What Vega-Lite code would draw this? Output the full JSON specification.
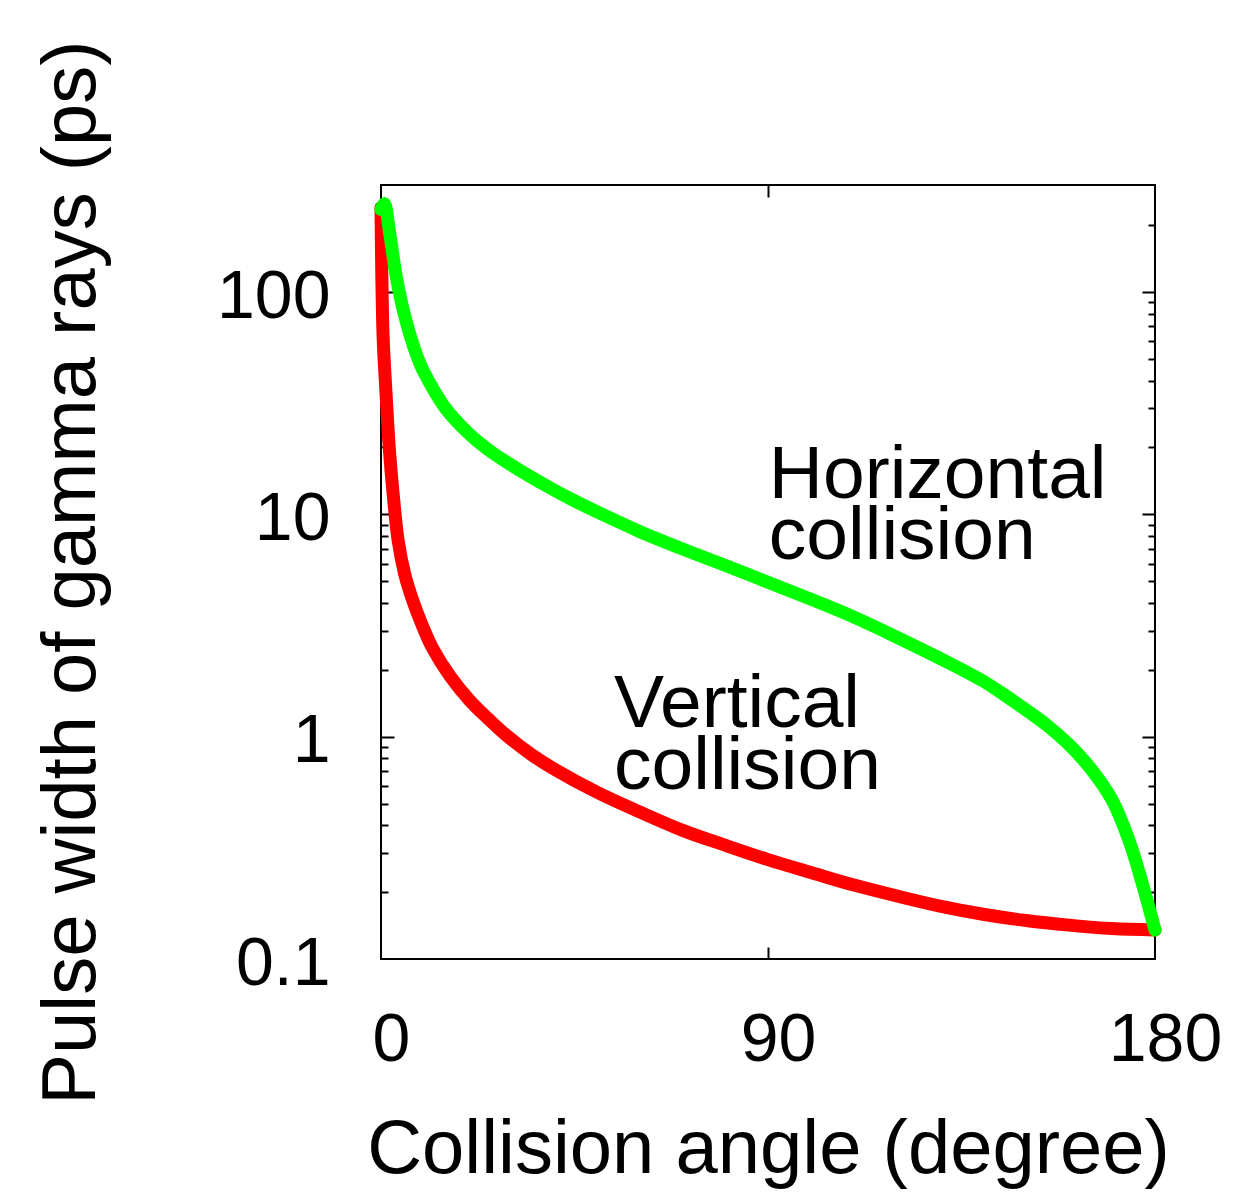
{
  "$schema": "https://vega.github.io/schema/vega-lite/v6.json",
  "autosize": {"type": "none"},
  "width": 774,
  "height": 774,
  "padding": {"left": 381, "top": 185, "right": 81, "bottom": 238},
  "background": "white",
  "config": {
    "view": {"stroke": "black", "strokeWidth": 2},
    "font": "Liberation Sans",
    "axis": {
      "grid": false,
      "domain": false,
      "tickColor": "black",
      "tickWidth": 2,
      "labelColor": "black",
      "titleColor": "black",
      "labelFont": "Liberation Sans",
      "titleFont": "Liberation Sans",
      "titleFontWeight": "normal"
    }
  },
  "datasets": {
    "curves": [
      {"angle": 0, "width": 240, "collision": "Vertical"},
      {"angle": 0.2, "width": 115, "collision": "Vertical"},
      {"angle": 0.5, "width": 62, "collision": "Vertical"},
      {"angle": 1, "width": 40, "collision": "Vertical"},
      {"angle": 1.5, "width": 27, "collision": "Vertical"},
      {"angle": 2, "width": 19, "collision": "Vertical"},
      {"angle": 2.8, "width": 12.5, "collision": "Vertical"},
      {"angle": 4, "width": 7.6, "collision": "Vertical"},
      {"angle": 5.5, "width": 5.4, "collision": "Vertical"},
      {"angle": 7.2, "width": 4.2, "collision": "Vertical"},
      {"angle": 9.5, "width": 3.2, "collision": "Vertical"},
      {"angle": 12, "width": 2.5, "collision": "Vertical"},
      {"angle": 16, "width": 1.88, "collision": "Vertical"},
      {"angle": 20.7, "width": 1.45, "collision": "Vertical"},
      {"angle": 25, "width": 1.2, "collision": "Vertical"},
      {"angle": 29, "width": 1.02, "collision": "Vertical"},
      {"angle": 35, "width": 0.83, "collision": "Vertical"},
      {"angle": 40, "width": 0.72, "collision": "Vertical"},
      {"angle": 50, "width": 0.565, "collision": "Vertical"},
      {"angle": 60, "width": 0.46, "collision": "Vertical"},
      {"angle": 70, "width": 0.38, "collision": "Vertical"},
      {"angle": 80, "width": 0.325, "collision": "Vertical"},
      {"angle": 90, "width": 0.28, "collision": "Vertical"},
      {"angle": 100, "width": 0.245, "collision": "Vertical"},
      {"angle": 110, "width": 0.215, "collision": "Vertical"},
      {"angle": 120, "width": 0.192, "collision": "Vertical"},
      {"angle": 130, "width": 0.173, "collision": "Vertical"},
      {"angle": 140, "width": 0.159, "collision": "Vertical"},
      {"angle": 150, "width": 0.149, "collision": "Vertical"},
      {"angle": 160, "width": 0.142, "collision": "Vertical"},
      {"angle": 170, "width": 0.137, "collision": "Vertical"},
      {"angle": 180, "width": 0.135, "collision": "Vertical"},
      {"angle": 0, "width": 235, "collision": "Horizontal"},
      {"angle": 0.8, "width": 250, "collision": "Horizontal"},
      {"angle": 2, "width": 185, "collision": "Horizontal"},
      {"angle": 3.7, "width": 113, "collision": "Horizontal"},
      {"angle": 6, "width": 72, "collision": "Horizontal"},
      {"angle": 9, "width": 48, "collision": "Horizontal"},
      {"angle": 12, "width": 37, "collision": "Horizontal"},
      {"angle": 15, "width": 30, "collision": "Horizontal"},
      {"angle": 20, "width": 23.5, "collision": "Horizontal"},
      {"angle": 25, "width": 19.5, "collision": "Horizontal"},
      {"angle": 30, "width": 16.8, "collision": "Horizontal"},
      {"angle": 38.6, "width": 13.4, "collision": "Horizontal"},
      {"angle": 45, "width": 11.5, "collision": "Horizontal"},
      {"angle": 51, "width": 10.1, "collision": "Horizontal"},
      {"angle": 60, "width": 8.4, "collision": "Horizontal"},
      {"angle": 70, "width": 7.0, "collision": "Horizontal"},
      {"angle": 80, "width": 5.9, "collision": "Horizontal"},
      {"angle": 90, "width": 4.95, "collision": "Horizontal"},
      {"angle": 100, "width": 4.15, "collision": "Horizontal"},
      {"angle": 110, "width": 3.45, "collision": "Horizontal"},
      {"angle": 120, "width": 2.8, "collision": "Horizontal"},
      {"angle": 130, "width": 2.25, "collision": "Horizontal"},
      {"angle": 140, "width": 1.78, "collision": "Horizontal"},
      {"angle": 145, "width": 1.54, "collision": "Horizontal"},
      {"angle": 150, "width": 1.32, "collision": "Horizontal"},
      {"angle": 155, "width": 1.12, "collision": "Horizontal"},
      {"angle": 160, "width": 0.92, "collision": "Horizontal"},
      {"angle": 165, "width": 0.72, "collision": "Horizontal"},
      {"angle": 170, "width": 0.52, "collision": "Horizontal"},
      {"angle": 174, "width": 0.34, "collision": "Horizontal"},
      {"angle": 177, "width": 0.22, "collision": "Horizontal"},
      {"angle": 180, "width": 0.135, "collision": "Horizontal"}
    ]
  },
  "data": {"name": "curves"},
  "resolve": {"axis": {"x": "independent", "y": "independent"}},
  "layer": [
    {
      "mark": {"type": "line", "strokeWidth": 13, "interpolate": "catmull-rom", "strokeCap": "round", "strokeJoin": "round", "clip": false},
      "encoding": {
        "x": {
          "field": "angle", "type": "quantitative",
          "scale": {"domain": [0, 180], "nice": false, "zero": false},
          "axis": {
            "orient": "bottom", "values": [0, 90, 180], "ticks": false,
            "labelFontSize": 68, "labelPadding": 101, "labelBaseline": "alphabetic",
            "labelOffset": 10, "labelFlush": false, "labelAlign": "center",
            "title": "Collision angle (degree)", "titleFontSize": 76,
            "titleX": 387, "titleY": 213, "titleBaseline": "alphabetic", "titleAlign": "center"
          }
        },
        "y": {
          "field": "width", "type": "quantitative",
          "scale": {"type": "log", "domain": [0.1, 303], "nice": false, "zero": false},
          "axis": {
            "orient": "left", "values": [0.1, 1, 10, 100], "ticks": false, "format": "~g",
            "labelFontSize": 68, "labelPadding": 51, "labelBaseline": "alphabetic",
            "labelOffset": 25, "labelAlign": "right",
            "title": "Pulse width of gamma rays (ps)", "titleFontSize": 76,
            "titleAngle": -90, "titleX": -287, "titleY": 387,
            "titleBaseline": "alphabetic", "titleAlign": "center"
          }
        },
        "color": {
          "field": "collision", "type": "nominal",
          "scale": {"domain": ["Vertical", "Horizontal"], "range": ["#ff0000", "#00ff00"]},
          "legend": null
        }
      }
    },
    {
      "mark": {"type": "line", "opacity": 0},
      "encoding": {
        "x": {"field": "angle", "type": "quantitative",
          "axis": {"orient": "bottom", "values": [90], "labels": false, "tickSize": -12, "title": null}},
        "y": {"field": "width", "type": "quantitative", "scale": {"type": "log"},
          "axis": {"orient": "left", "values": [1, 10, 100], "labels": false, "tickSize": -13, "title": null}}
      }
    },
    {
      "mark": {"type": "line", "opacity": 0},
      "encoding": {
        "x": {"field": "angle", "type": "quantitative",
          "axis": {"orient": "top", "values": [90], "labels": false, "tickSize": -12, "title": null}},
        "y": {"field": "width", "type": "quantitative", "scale": {"type": "log"},
          "axis": {"orient": "left", "values": [0.2, 0.3, 0.4, 0.5, 0.6, 0.7, 0.8, 0.9, 2, 3, 4, 5, 6, 7, 8, 9, 20, 30, 40, 50, 60, 70, 80, 90, 200], "labels": false, "tickSize": -7, "title": null}}
      }
    },
    {
      "mark": {"type": "line", "opacity": 0},
      "encoding": {
        "x": {"field": "angle", "type": "quantitative", "axis": null},
        "y": {"field": "width", "type": "quantitative", "scale": {"type": "log"},
          "axis": {"orient": "right", "values": [1, 10, 100], "labels": false, "tickSize": -13, "title": null}}
      }
    },
    {
      "mark": {"type": "line", "opacity": 0},
      "encoding": {
        "x": {"field": "angle", "type": "quantitative", "axis": null},
        "y": {"field": "width", "type": "quantitative", "scale": {"type": "log"},
          "axis": {"orient": "right", "values": [0.2, 0.3, 0.4, 0.5, 0.6, 0.7, 0.8, 0.9, 2, 3, 4, 5, 6, 7, 8, 9, 20, 30, 40, 50, 60, 70, 80, 90, 200], "labels": false, "tickSize": -7, "title": null}}
      }
    },
    {
      "data": {"values": [{}]},
      "mark": {"type": "text", "text": ["Horizontal", "collision"], "fontSize": 75, "lineHeight": 61, "align": "left", "baseline": "alphabetic", "font": "Liberation Sans", "color": "black"},
      "encoding": {
        "x": {"datum": 90.2, "type": "quantitative", "axis": null},
        "y": {"datum": 11.84, "type": "quantitative", "scale": {"type": "log"}, "axis": null}
      }
    },
    {
      "data": {"values": [{}]},
      "mark": {"type": "text", "text": ["Vertical", "collision"], "fontSize": 75, "lineHeight": 62, "align": "left", "baseline": "alphabetic", "font": "Liberation Sans", "color": "black"},
      "encoding": {
        "x": {"datum": 54.2, "type": "quantitative", "axis": null},
        "y": {"datum": 1.105, "type": "quantitative", "scale": {"type": "log"}, "axis": null}
      }
    }
  ]
}
